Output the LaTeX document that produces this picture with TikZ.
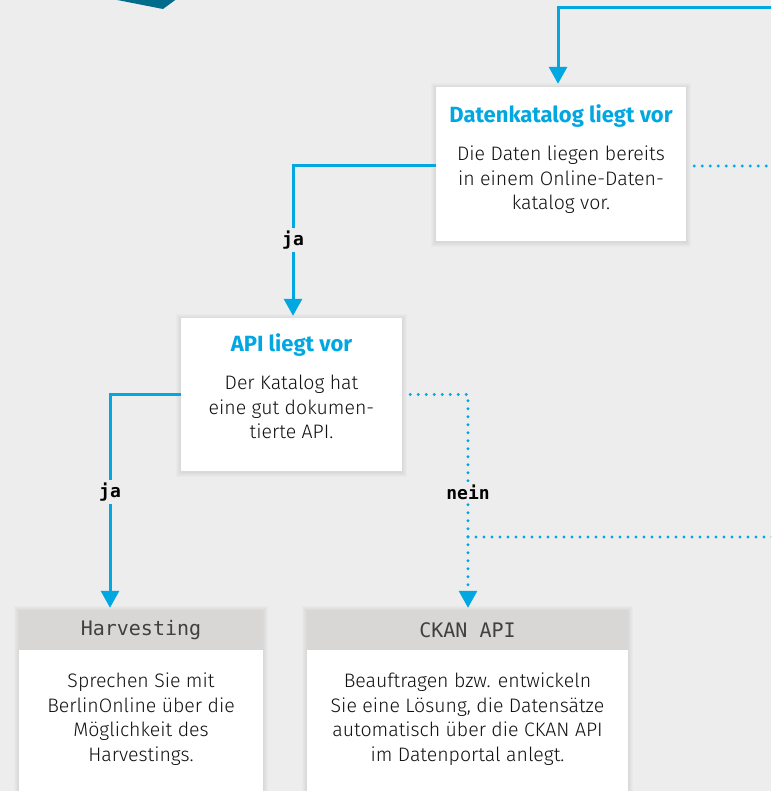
\documentclass[tikz,border=0pt]{standalone}
\usepackage{fontspec}
\setmainfont{Fira Sans}
\newfontfamily\lightf{Fira Sans Light}
\newfontfamily\monof{DejaVu Sans Mono}
\usetikzlibrary{arrows.meta}
\pgfdeclarelayer{shadowlayer}
\pgfsetlayers{shadowlayer,main}
\definecolor{bgc}{HTML}{ECEDEC}
\definecolor{blu}{HTML}{00A7E1}
\definecolor{teal}{HTML}{006C8B}
\definecolor{hdr}{HTML}{D8D7D6}
\definecolor{txt}{HTML}{101010}
\tikzset{
  boxw/.style={draw=none,fill=white,rectangle,inner sep=0pt},
  hdrbox/.style={draw=none,fill=hdr,rectangle,inner sep=0pt},
  ttl/.style={font=\fontsize{22}{26}\selectfont\bfseries,text=blu,inner sep=0pt},
  bodyt/.style={font=\lightf\fontsize{19.5}{24.5}\selectfont,text=txt,align=center,inner sep=0pt},
  hdrt/.style={font=\monof\fontsize{20}{24}\selectfont,text=black!75,inner sep=0pt},
  lbl/.style={font=\monof\bfseries\fontsize{18}{20}\selectfont,text=black,fill=bgc,inner sep=3pt},
  conn/.style={draw=blu,line width=3pt,-{Triangle[width=18pt,length=17pt]}},
  dotc/.style={draw=blu,line width=3.3pt,line cap=round,dash pattern=on 0pt off 8pt},
  shd/.style={fill=black,opacity=0.016},
}
\newcommand{\boxshadow}[1]{%
  \begin{pgfonlayer}{shadowlayer}
  \foreach \i in {0.5,1.5,2.5,3.5,4.5}{
    \fill[shd] ([shift={(-\i pt,\i pt-1pt)}]#1.north west) rectangle ([shift={(\i pt,-\i pt-1pt)}]#1.south east);
  }
  \end{pgfonlayer}}
\begin{document}
\begin{tikzpicture}[x=1pt,y=-1pt]
\begin{pgfonlayer}{shadowlayer}
\fill[bgc] (0,0) rectangle (771,791);
\end{pgfonlayer}
\useasboundingbox (0,0) rectangle (771,791);
\clip (0,0) rectangle (771,791);
% teal shape
\fill[teal] (107,-2) -- (163,9) -- (178,-2) -- cycle;
% boxes
\node[boxw,minimum width=250pt,minimum height=154pt] (b1) at (561,164) {};
\boxshadow{b1}
\node[ttl] (t1) at (561,116) {Datenkatalog liegt vor};
\node[bodyt] (d1) at (561,180) {Die Daten liegen bereits\\in einem Online-Daten-\\katalog vor.};
\node[boxw,minimum width=221pt,minimum height=153pt] (b2) at (291.5,394.5) {};
\boxshadow{b2}
\node[ttl] (t2) at (291.5,345) {API liegt vor};
\node[bodyt] (d2) at (291.5,407) {Der Katalog hat\\eine gut dokumen-\\tierte API.};
\node[boxw,minimum width=244pt,minimum height=200pt] (b3) at (141,710) {};
\boxshadow{b3}
\node[hdrbox,minimum width=244pt,minimum height=40pt] (h3) at (141,630) {};
\node[hdrt] (ht3) at (141,630) {Harvesting};
\node[bodyt] (d3) at (141,719) {Sprechen Sie mit\\BerlinOnline über die\\Möglichkeit des\\Harvestings.};
\node[boxw,minimum width=321pt,minimum height=200pt] (b4) at (467.5,710) {};
\boxshadow{b4}
\node[hdrbox,minimum width=321pt,minimum height=40pt] (h4) at (467.5,630) {};
\node[hdrt] (ht4) at (467.5,630) {CKAN API};
\node[bodyt] (d4) at (467.5,719) {Beauftragen bzw. entwickeln\\Sie eine Lösung, die Datensätze\\automatisch über die CKAN API\\im Datenportal anlegt.};
% connectors
\coordinate (topin) at (772,8);
\coordinate (b1r) at (772,166);
\coordinate (j1) at (468,537);
\coordinate (j1r) at (772,537);
\draw[conn] (topin) -| ([xshift=-3pt,yshift=3pt]b1.north);
\draw[dotc] ([xshift=8pt,yshift=-2pt]b1.east) -- (b1r);
\draw[conn] ([yshift=-2pt]b1.west) -| ([xshift=1.5pt,yshift=2pt]b2.north);
\draw[conn] (b2.west) -| ([xshift=-31pt,yshift=2pt]h3.north);
\draw[dotc] ([xshift=8pt]b2.east) -| ([xshift=0.5pt,yshift=20pt]h4.north);
\draw[-{Triangle[width=18pt,length=17pt]},draw=blu,line width=3pt] ([xshift=0.5pt,yshift=19pt]h4.north) -- ([xshift=0.5pt,yshift=2pt]h4.north);
\draw[dotc] (j1) -- (j1r);
% labels
\node[lbl] (ja1) at (293,240) {ja};
\node[lbl] (ja2) at (110,492) {ja};
\node[lbl] (nein) at (468,492) {nein};
\end{tikzpicture}
\end{document}
